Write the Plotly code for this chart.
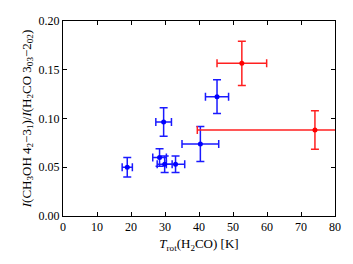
import plotly.graph_objects as go

# Blue (normal) sources
blue_t = [18.9, 28.4, 29.9, 33.1, 29.6, 40.4, 45.3]
blue_terr = [1.5, 2.0, 2.2, 2.7, 2.3, 5.4, 3.4]
blue_r = [0.050, 0.060, 0.053, 0.053, 0.0964, 0.0738, 0.1224]
blue_rerr = [0.010, 0.009, 0.0085, 0.0085, 0.0147, 0.018, 0.0173]

# Red sources
red_t = [52.6, 74.1]
red_terr_plus = [7.3, 20.0]
red_terr_minus = [7.3, 34.6]
red_r = [0.1566, 0.0882]
red_rerr = [0.0227, 0.0197]

xticks = [0, 10, 20, 30, 40, 50, 60, 70, 80]
yticks = [0.00, 0.05, 0.10, 0.15, 0.20]

font = "Liberation Serif, Times New Roman, serif"

fig = go.Figure()
fig.add_trace(go.Scatter(
    x=blue_t, y=blue_r, mode="markers",
    marker=dict(color="#0000ff", size=5),
    error_x=dict(type="data", array=blue_terr, color="#1a1aff", thickness=1.5, width=4),
    error_y=dict(type="data", array=blue_rerr, color="#1a1aff", thickness=1.5, width=4),
    cliponaxis=True, showlegend=False,
))
fig.add_trace(go.Scatter(
    x=red_t, y=red_r, mode="markers",
    marker=dict(color="#ff0000", size=5),
    error_x=dict(type="data", symmetric=False, array=red_terr_plus, arrayminus=red_terr_minus,
                 color="#ff2020", thickness=1.5, width=4),
    error_y=dict(type="data", array=red_rerr, color="#ff2020", thickness=1.5, width=4),
    cliponaxis=True, showlegend=False,
))

axis_common = dict(
    showgrid=False, zeroline=False, showline=True, linecolor="black", linewidth=1,
    mirror="ticks", ticks="inside", ticklen=4, tickcolor="black", tickwidth=1,
    tickfont=dict(family=font, size=12, color="black"), automargin=True,
)
fig.update_xaxes(range=[0, 80], tickvals=xticks, ticktext=[str(v) for v in xticks],
                 title=dict(text="<i>T</i><sub>rot</sub>(H<sub>2</sub>CO) [K]",
                            font=dict(family=font, size=13, color="black"), standoff=5),
                 **axis_common)
fig.update_yaxes(range=[0, 0.2], tickvals=yticks, ticktext=[f"{v:.2f}" for v in yticks],
                 title=dict(text="<i>I</i>(CH<sub>3</sub>OH 4<sub>2</sub>\u22123<sub>1</sub>)/<i>I</i>(H<sub>2</sub>CO 3<sub>03</sub>\u22122<sub>02</sub>)",
                            font=dict(family=font, size=13, color="black"), standoff=4),
                 **axis_common)
fig.update_layout(
    width=353, height=264,
    margin=dict(l=63, r=14, t=21, b=48),
    paper_bgcolor="white", plot_bgcolor="white",
    font=dict(family=font, size=12, color="black"),
)
fig.write_html("out.html", config={"displayModeBar": False},
               post_script="document.body.style.margin='0px';")
